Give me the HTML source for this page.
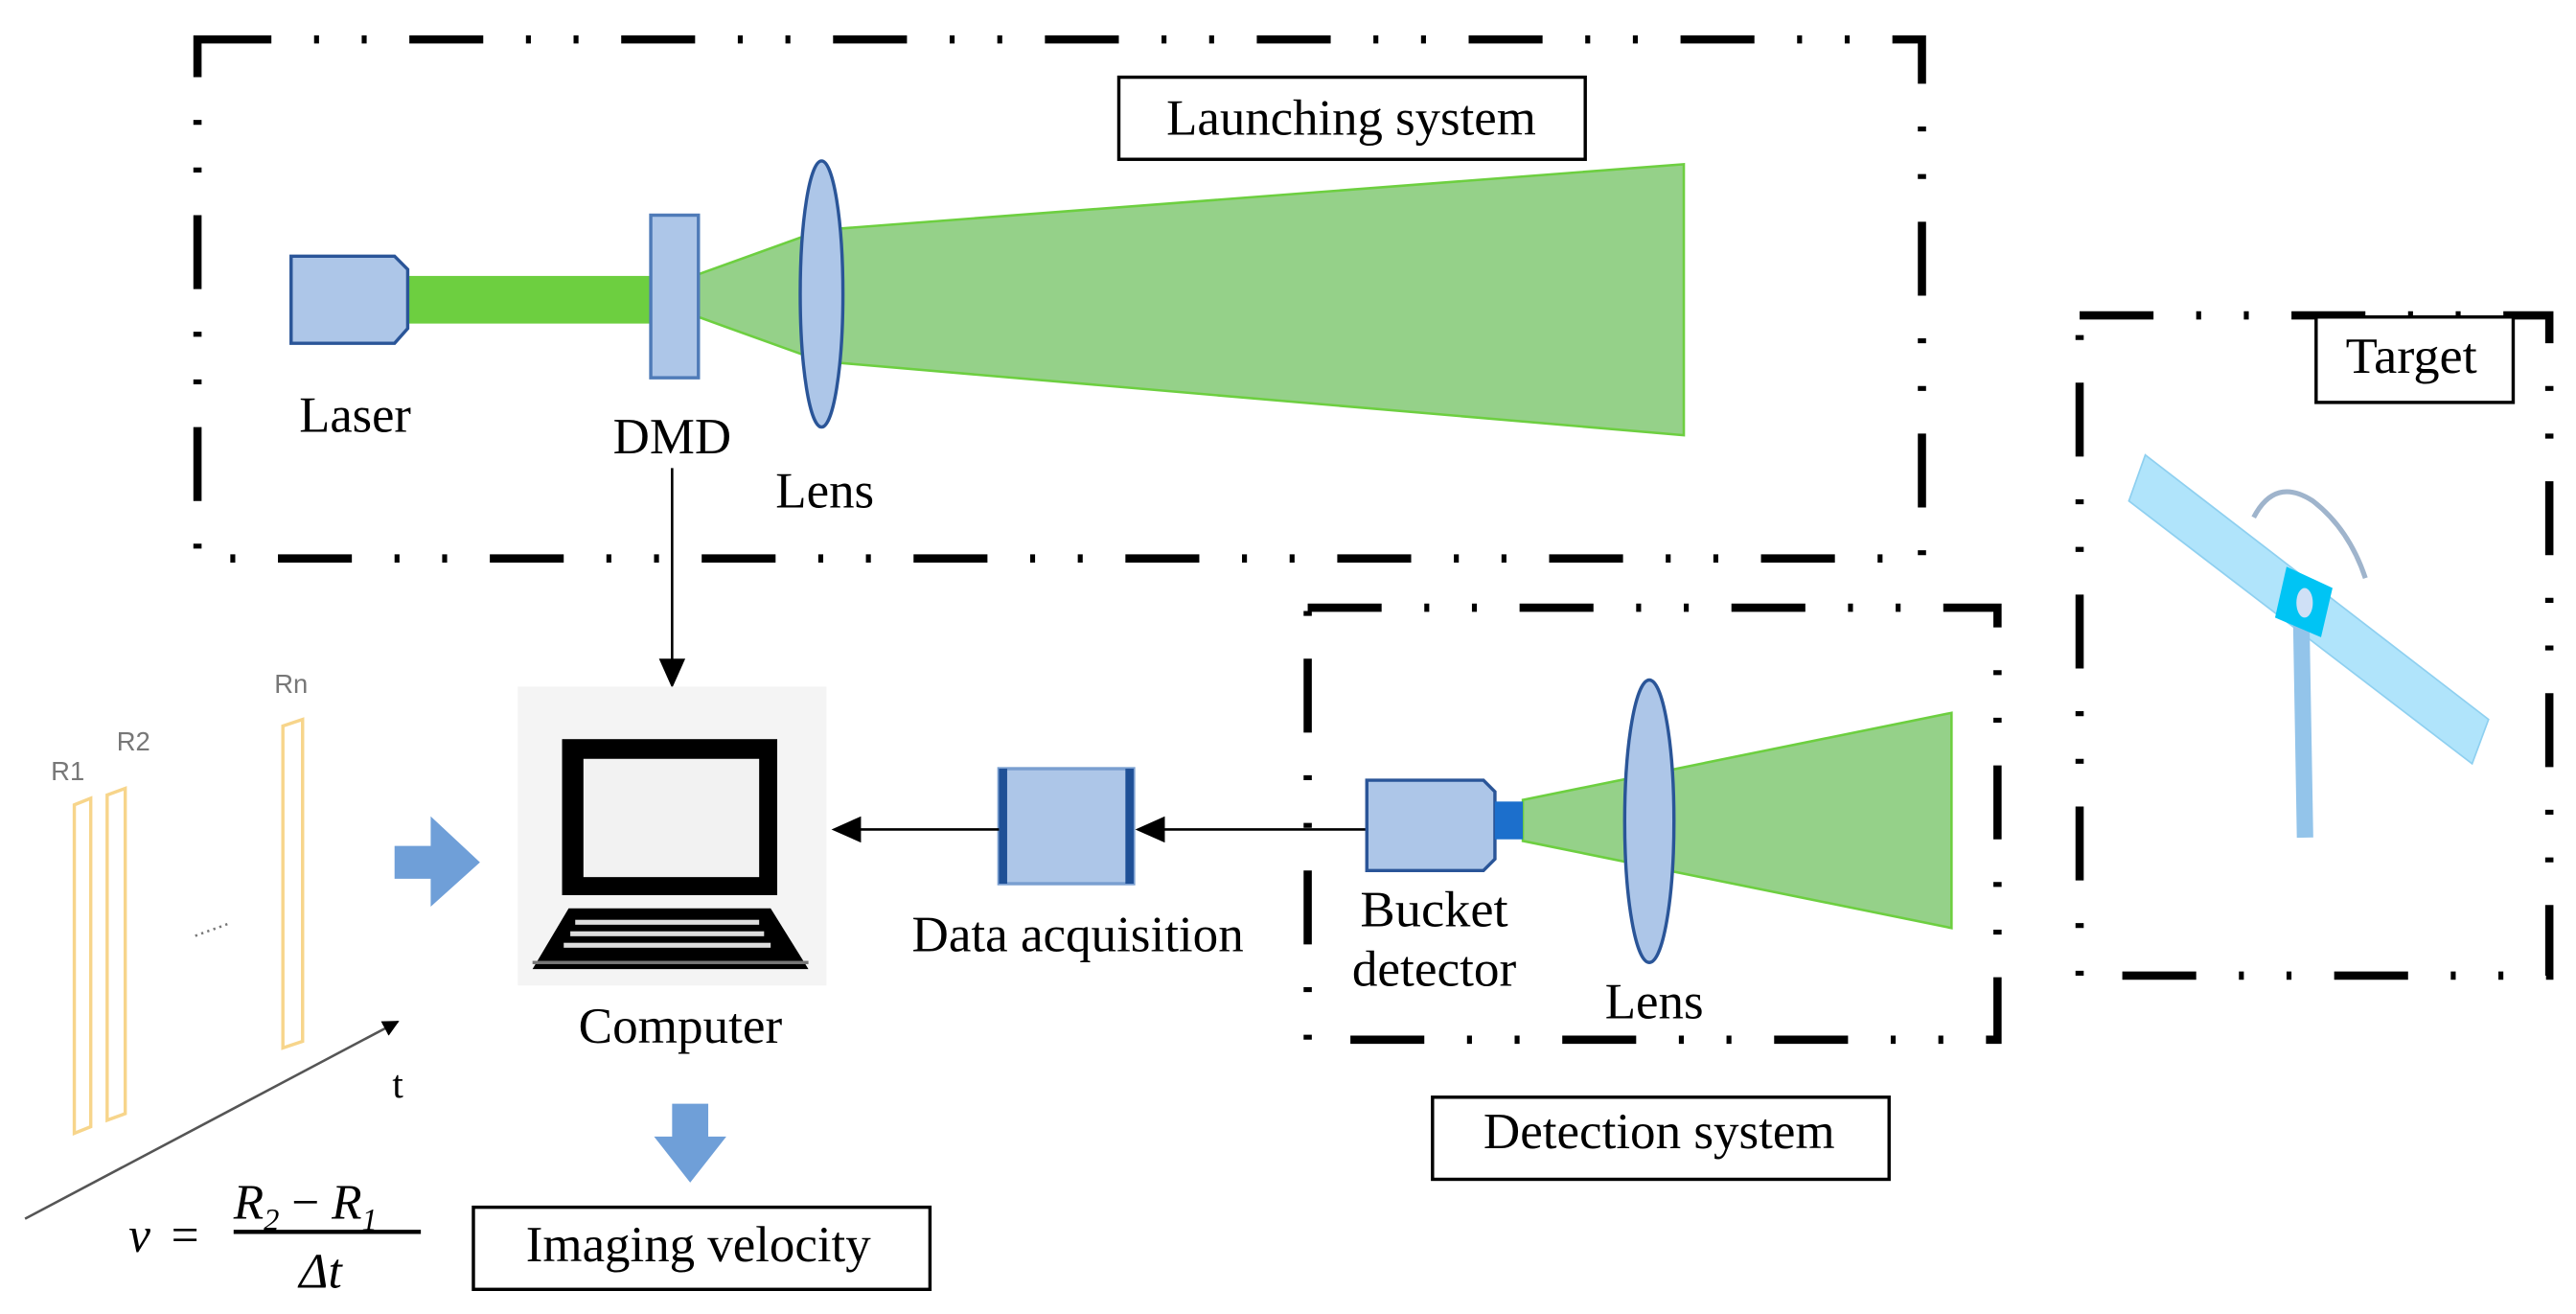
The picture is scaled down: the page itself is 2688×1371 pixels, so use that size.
<!DOCTYPE html>
<html><head><meta charset="utf-8"><style>
html,body{margin:0;padding:0;background:#fff;}
svg{display:block;}
text{font-family:"Liberation Serif",serif;fill:#000;}
.s{font-family:"Liberation Sans",sans-serif;fill:#777;}
</style></head><body>
<svg width="2688" height="1371" viewBox="0 0 1568 800" xmlns="http://www.w3.org/2000/svg">
<defs>
<marker id="ah" markerWidth="10" markerHeight="10" refX="9" refY="5" orient="auto" markerUnits="userSpaceOnUse">
<path d="M0,0 L10,5 L0,10 z" fill="#000"/></marker>
<marker id="ah2" markerWidth="18" markerHeight="16" refX="16" refY="8" orient="auto" markerUnits="userSpaceOnUse">
<path d="M0,0 L18,8 L0,16 z" fill="#000"/></marker>
</defs>
<g fill="none" stroke="#000" stroke-width="5" stroke-dasharray="45 26 3 26 3 26">
<rect x="120" y="24" width="1050" height="316"/>
<rect x="796" y="370" width="420" height="263"/>
<rect x="1266" y="192" width="286" height="402"/>
</g>
<rect x="681" y="47" width="284" height="50" fill="#fff" stroke="#000" stroke-width="2"/>
<text x="710" y="82" font-size="31" textLength="225" lengthAdjust="spacingAndGlyphs">Launching system</text>
<rect x="248" y="168" width="150" height="29" fill="#6dcf40"/>
<polygon points="425,167 500,140 1025,100 1025,265 500,220 425,193" fill="#95d189" stroke="#6dcf40" stroke-width="1.5"/>
<path d="M177,156 L240,156 L248,164 L248,200 L240,209 L177,209 Z" fill="#adc6e8" stroke="#2a5598" stroke-width="2"/>
<rect x="396" y="131" width="29" height="99" fill="#adc6e8" stroke="#4f7bb8" stroke-width="2"/>
<ellipse cx="500" cy="179" rx="13" ry="81" fill="#adc6e8" stroke="#2a5598" stroke-width="2"/>
<text x="182" y="263" font-size="31" textLength="68" lengthAdjust="spacingAndGlyphs">Laser</text>
<text x="373" y="276" font-size="31" textLength="72" lengthAdjust="spacingAndGlyphs">DMD</text>
<text x="472" y="309" font-size="31" textLength="60" lengthAdjust="spacingAndGlyphs">Lens</text>
<line x1="409" y1="285" x2="409" y2="417" stroke="#000" stroke-width="1.5" marker-end="url(#ah2)"/>
<rect x="315" y="418" width="188" height="182" fill="#f4f4f4"/>
<rect x="342" y="450" width="131" height="95" fill="#000"/>
<rect x="355" y="462" width="107" height="72" fill="#f2f2f2"/>
<path d="M346,553 L469,553 L492,590 L324,590 Z" fill="#000"/>
<g fill="#ddd"><rect x="350" y="560" width="112" height="3"/><rect x="347" y="567" width="118" height="3"/><rect x="343" y="574" width="126" height="3"/></g>
<rect x="324" y="585" width="168" height="2" fill="#777"/>
<text x="352" y="635" font-size="31" textLength="124" lengthAdjust="spacingAndGlyphs">Computer</text>
<path d="M409,672 L431,672 L431,692 L442,692 L420,720 L398,692 L409,692 Z" fill="#6f9fd8"/>
<rect x="288" y="735" width="278" height="50" fill="#fff" stroke="#000" stroke-width="2"/>
<text x="320" y="768" font-size="31" textLength="210" lengthAdjust="spacingAndGlyphs">Imaging velocity</text>
<rect x="608" y="468" width="82" height="70" fill="#adc6e8" stroke="#7a9fd0" stroke-width="2"/>
<rect x="608" y="468" width="5" height="70" fill="#1f5096"/>
<rect x="685" y="468" width="5" height="70" fill="#1f5096"/>
<line x1="608" y1="505" x2="508" y2="505" stroke="#000" stroke-width="1.5" marker-end="url(#ah2)"/>
<line x1="832" y1="505" x2="693" y2="505" stroke="#000" stroke-width="1.5" marker-end="url(#ah2)"/>
<text x="555" y="579" font-size="31" textLength="202" lengthAdjust="spacingAndGlyphs">Data acquisition</text>
<polygon points="927,487 1188,434 1188,565 927,512" fill="#95d189" stroke="#6dcf40" stroke-width="1.5"/>
<path d="M832,475 L903,475 L910,482 L910,523 L903,530 L832,530 Z" fill="#adc6e8" stroke="#2a5598" stroke-width="2"/>
<rect x="910" y="488" width="17" height="23" fill="#1c6fcc"/>
<ellipse cx="1004" cy="500" rx="15" ry="86" fill="#adc6e8" stroke="#2a5598" stroke-width="2"/>
<text x="828" y="564" font-size="31" textLength="90" lengthAdjust="spacingAndGlyphs">Bucket</text>
<text x="823" y="600" font-size="31" textLength="100" lengthAdjust="spacingAndGlyphs">detector</text>
<text x="977" y="620" font-size="31" textLength="60" lengthAdjust="spacingAndGlyphs">Lens</text>
<rect x="872" y="668" width="278" height="50" fill="#fff" stroke="#000" stroke-width="2"/>
<text x="903" y="699" font-size="31" textLength="214" lengthAdjust="spacingAndGlyphs">Detection system</text>
<rect x="1410" y="193" width="120" height="52" fill="#fff" stroke="#000" stroke-width="2"/>
<text x="1428" y="227" font-size="31" textLength="80" lengthAdjust="spacingAndGlyphs">Target</text>
<polygon points="1306,277 1515,438 1505,465 1296,305" fill="#b0e4fb" stroke="#8fd0f0" stroke-width="1"/>
<rect x="1396" y="380" width="10" height="130" fill="#93c4ea" transform="rotate(-1 1400 380)"/>
<polygon points="1392,345 1420,358 1413,388 1385,376" fill="#00c4f4"/>
<ellipse cx="1403" cy="367" rx="5" ry="9" fill="#cfe0f6"/>
<path d="M1372,315 Q1385,290 1408,305 Q1430,322 1440,352" fill="none" stroke="#9fb4cc" stroke-width="3"/>
<g fill="none" stroke="#f7d58b" stroke-width="2">
<path d="M45,490 L55,486 L55,686 L45,690 Z"/>
<path d="M65,484 L76,480 L76,678 L65,682 Z"/>
<path d="M172,442 L184,438 L184,634 L172,638 Z"/>
</g>
<text x="41" y="475" class="s" font-size="16" text-anchor="middle">R1</text>
<text x="81" y="457" class="s" font-size="16" text-anchor="middle">R2</text>
<text x="177" y="422" class="s" font-size="16" text-anchor="middle">Rn</text>
<text x="128" y="567" class="s" font-size="14" text-anchor="middle" transform="rotate(-20 128 565)">......</text>
<path d="M240,515 L262,515 L262,497 L292,525 L262,552 L262,535 L240,535 Z" fill="#6f9fd8"/>
<line x1="15" y1="742" x2="242" y2="622" stroke="#555" stroke-width="1.5" marker-end="url(#ah)"/>
<text x="242" y="668" font-size="24" text-anchor="middle" font-family="Liberation Sans,sans-serif">t</text>
<text x="78" y="762" font-size="30" font-style="italic">v</text>
<text x="104" y="762" font-size="30">=</text>
<text x="142" y="742" font-size="30" font-style="italic">R<tspan font-size="19" dy="7">2</tspan><tspan dy="-7" font-style="normal"> − </tspan>R<tspan font-size="19" dy="7">1</tspan></text>
<line x1="142" y1="750" x2="256" y2="750" stroke="#000" stroke-width="2.5"/>
<text x="182" y="784" font-size="30" font-style="italic">Δt</text>
</svg>
</body></html>
